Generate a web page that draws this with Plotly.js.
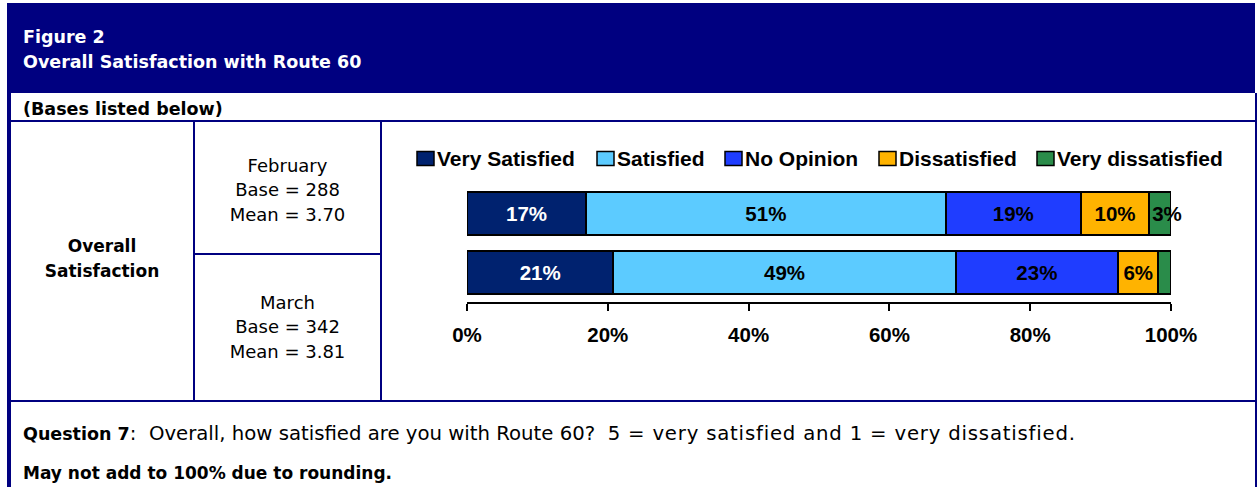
<!DOCTYPE html>
<html>
<head>
<meta charset="utf-8">
<script src="https://cdn.plot.ly/plotly-3.0.1.min.js"></script>
<style>
  body { margin: 0; background: #fff; }
  #page { position: relative; width: 1257px; height: 487px; overflow: hidden; }
  .box { position: absolute; background: #000080; }
  .txt { position: absolute; font-family: "DejaVu Sans", sans-serif; color: #000; white-space: nowrap; }
  #plotDiv { position: absolute; left: 0; top: 0; width: 1257px; height: 487px; }
</style>
</head>
<body>
<div id="page">
  <div id="frame"></div>
  <div id="plotDiv"></div>
</div>
<script>
"use strict";

// Chart data (percent of respondents)
const months = ['February', 'March'];
const bases = [288, 342];
const means = [3.70, 3.81];
const seriesNames = ['Very Satisfied', 'Satisfied', 'No Opinion', 'Dissatisfied', 'Very dissatisfied'];
const verySatisfied = [16.9, 20.8];
const satisfied = [51.1, 48.6];
const noOpinion = [19.2, 23.1];
const dissatisfied = [9.7, 5.7];
const veryDissatisfied = [3.1, 1.8];
const tickValues = [0, 20, 40, 60, 80, 100];
const tickLabels = ['0%', '20%', '40%', '60%', '80%', '100%'];

const seriesValues = [verySatisfied, satisfied, noOpinion, dissatisfied, veryDissatisfied];
const seriesColors = ['#00226f', '#5ccbff', '#1f3dff', '#ffb300', '#2a8c4a'];
const labelColors = ['#ffffff', '#000000', '#000000', '#000000', '#000000'];

// Legend layout (page pixels, left edge of each swatch)
const legendBoxX = [417, 597, 725, 879, 1037];

// Plot area in page pixels
const W = 1257, H = 487;
const PLOT_L = 467, PLOT_R = 1171, PLOT_T = 184, PLOT_B = 302;
const pxX = px => (px - PLOT_L) / (PLOT_R - PLOT_L);
const pxY = py => (PLOT_B - py) / (PLOT_B - PLOT_T);

const frame = document.getElementById('frame');

// Table frame drawn with plain divs
function rect(x, y, w, h) {
    const d = document.createElement('div');
    d.className = 'box';
    d.style.left = x + 'px';
    d.style.top = y + 'px';
    d.style.width = w + 'px';
    d.style.height = h + 'px';
    frame.appendChild(d);
    return d;
}

function text(html, x, y, w, opts) {
    const d = document.createElement('div');
    d.className = 'txt';
    d.innerHTML = html;
    d.style.left = x + 'px';
    d.style.top = y + 'px';
    if (w) d.style.width = w + 'px';
    d.style.fontSize = opts.size + 'px';
    d.style.lineHeight = opts.lh + 'px';
    d.style.fontWeight = opts.bold ? 'bold' : 'normal';
    d.style.textAlign = opts.align || 'left';
    if (opts.color) d.style.color = opts.color;
    frame.appendChild(d);
}

rect(7, 3, 1248, 90);          // title band
rect(7, 93, 4, 394);           // left border
rect(1255, 93, 2, 394);        // right border
rect(7, 120, 1250, 2);         // under "(Bases listed below)"
rect(7, 400, 1250, 2);         // bottom of table row
rect(193, 120, 2, 282);        // column lines
rect(380, 120, 2, 282);
rect(193, 253, 189, 2);        // between months

text('Figure 2<br>Overall Satisfaction with Route 60', 23, 24.5, 0, {size: 17.5, lh: 25, bold: true, color: '#fff'});
text('(Bases listed below)', 23, 96.5, 0, {size: 17.5, lh: 25, bold: true});
text('Overall<br>Satisfaction', 11, 234.2, 182, {size: 17, lh: 25, bold: true, align: 'center'});

const monthTops = [153.8, 290.5];
months.forEach((m, i) => {
    const html = `${m}<br>Base = ${bases[i]}<br>Mean = ${means[i].toFixed(2)}`;
    text(html, 195, monthTops[i], 185, {size: 18, lh: 24.5, align: 'center'});
});

text('<b style="font-size:17.5px">Question 7</b>:&nbsp; Overall, how satisfied are you with Route 60?&nbsp; ' +
     '<span style="letter-spacing:0.8px">5 = very satisfied and 1 = very dissatisfied.</span>',
     23, 420.5, 0, {size: 19.7, lh: 25});
text('May not add to 100% due to rounding.', 23, 460.5, 0, {size: 17, lh: 25, bold: true});

// Stacked horizontal bars
const traces = seriesNames.map((name, k) => ({
    type: 'bar',
    orientation: 'h',
    name: name,
    y: months,
    x: seriesValues[k],
    text: seriesValues[k].map(v => v >= 2 ? Math.round(v) + '%' : ''),
    textposition: 'inside',
    insidetextanchor: k === 4 ? 'start' : 'middle',
    constraintext: 'none',
    cliponaxis: false,
    textangle: 0,
    textfont: { family: 'Liberation Sans, Arial, sans-serif', size: 20.5, weight: 'bold', color: labelColors[k] },
    marker: { color: seriesColors[k], line: { color: '#000', width: 2 } },
    showlegend: false,
    hoverinfo: 'none'
}));

// Legend swatches and names, laid out like the original (swatch hard against text)
const shapes = seriesNames.map((name, k) => ({
    type: 'rect',
    xref: 'paper', yref: 'paper',
    x0: pxX(legendBoxX[k]), x1: pxX(legendBoxX[k] + 17),
    y0: pxY(165.5), y1: pxY(151.5),
    fillcolor: seriesColors[k],
    line: { color: '#000', width: 1.5 }
}));
const annotations = seriesNames.map((name, k) => ({
    xref: 'paper', yref: 'paper',
    x: pxX(legendBoxX[k] + 18), y: pxY(158.5),
    xanchor: 'left', yanchor: 'middle',
    text: name,
    showarrow: false,
    font: { family: 'Liberation Sans, Arial, sans-serif', size: 21, weight: 'bold', color: '#000' }
}));

const layout = {
    width: W,
    height: H,
    margin: { l: PLOT_L, r: W - PLOT_R, t: PLOT_T, b: H - PLOT_B, pad: 0 },
    paper_bgcolor: 'rgba(0,0,0,0)',
    plot_bgcolor: 'rgba(0,0,0,0)',
    barmode: 'stack',
    bargap: 0.275,
    font: { family: 'Liberation Sans, Arial, sans-serif', color: '#000' },
    xaxis: {
        range: [0, 100],
        tickvals: tickValues,
        ticktext: tickLabels,
        ticks: 'outside',
        ticklen: 7,
        tickwidth: 2,
        tickcolor: '#000',
        showline: true,
        linewidth: 2,
        linecolor: '#000',
        showgrid: false,
        zeroline: false,
        ticklabelstandoff: 6,
        tickfont: { size: 20.5, weight: 'bold' },
        fixedrange: true
    },
    yaxis: {
        type: 'category',
        categoryarray: months,
        autorange: 'reversed',
        showticklabels: false,
        showgrid: false,
        zeroline: false,
        showline: false,
        ticks: '',
        fixedrange: true
    },
    showlegend: false,
    shapes: shapes,
    annotations: annotations,
    hovermode: false
};

Plotly.newPlot('plotDiv', traces, layout, { displayModeBar: false, staticPlot: true });
</script>
</body>
</html>
